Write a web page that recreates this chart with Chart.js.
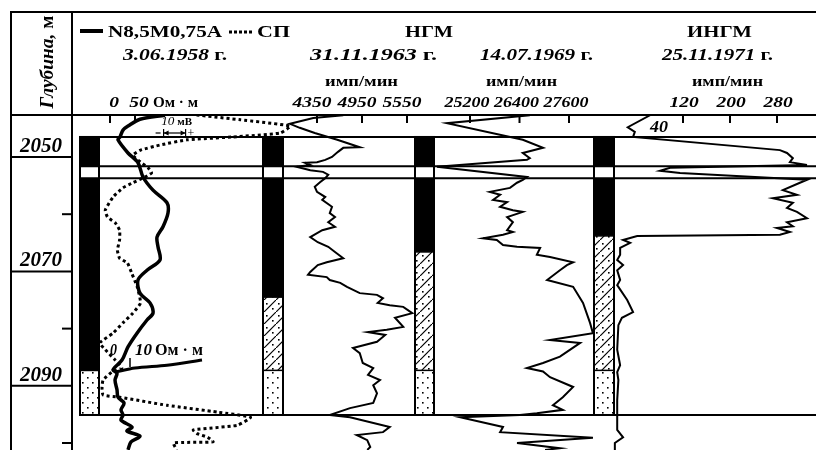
<!DOCTYPE html>
<html>
<head>
<meta charset="utf-8">
<style>
  html, body { margin: 0; padding: 0; background: #fff; }
  #wrap { width: 816px; height: 450px; position: relative; }
</style>
<script src="https://cdn.jsdelivr.net/npm/chart.js@4.4.0/dist/chart.umd.min.js"></script>
</head>
<body>
<div id="wrap"><canvas id="log"></canvas></div>
<script>
// depth axis (m)
const depthMin = 2042.66;
const depthMax = 2101.22;
const depthLabels = [2050, 2070, 2090];
const depthTicks = [2060, 2080, 2100];

// header ticks of each track
const resTicks = [0, 50];
const ngm63Ticks = [4350, 4950, 5550];
const ngm69Ticks = [25200, 26400, 27600];
const ingmTicks = [120, 200, 280];

// lithology boundaries (m)
const bedLines = [2046.5, 2051.6, 2053.7, 2095.1];
const clayBottom = [2087.3, 2074.5, 2066.6, 2063.8];
const sandTop = 2087.3;

// N8,5M0,75A resistivity, Ohm*m
const resDepth = [2042.7, 2043.4, 2044.6, 2045.3, 2046.5, 2047.0, 2049.3, 2051.0, 2053.5, 2055.8, 2058.0, 2059.8, 2062.2, 2064.0, 2065.7, 2068.0, 2069.8, 2071.5, 2073.8, 2075.5, 2077.3, 2078.5, 2080.8, 2083.2, 2085.5, 2087.2, 2087.8, 2089.0, 2090.7, 2092.0, 2093.0, 2094.2, 2095.1, 2096.0, 2097.2, 2097.9, 2098.8, 2099.8, 2101.2];
const resOhm = [110, 60, 36, 26, 20, 16, 36, 56, 66, 86, 114, 116, 106, 94, 96, 100, 74, 56, 60, 80, 86, 74, 54, 36, 24, 6, 14, 10, 14, 16, 28, 22, 26, 22, 44, 34, 60, 42, 36];
const resSpikeDepth = [2087.6, 2086.9, 2086.4, 2085.5];
const resSpikeOhm = [10, 50, 114, 184];

// SP, mV
const spDepth = [2042.66, 2043.5, 2044.6, 2045.8, 2046.5, 2047.0, 2047.9, 2048.8, 2049.7, 2050.9, 2051.9, 2052.8, 2053.7, 2054.5, 2055.4, 2057.0, 2059.3, 2060.5, 2061.5, 2062.8, 2064.5, 2066.3, 2067.7, 2068.5, 2070.3, 2072.7, 2075.5, 2077.3, 2079.0, 2080.8, 2082.5, 2083.7, 2085.5, 2086.9, 2087.6, 2089.0, 2090.2, 2091.6, 2092.0, 2093.4, 2094.6, 2095.5, 2096.9, 2097.7, 2098.3, 2099.0, 2099.8, 2100.0, 2101.2];
const spMv = [53, 73, 95.5, 91, 69.5, 48.5, 36.5, 27.5, 24, 27.5, 31, 32.5, 28.5, 24, 19.5, 15, 11.5, 12.5, 16, 18, 18, 17, 18, 21.5, 23.5, 26, 27.5, 24, 19.5, 15, 9, 11.5, 16, 19, 14.5, 10.5, 10, 10.5, 18, 39.5, 62.5, 77.5, 71.5, 51.5, 53, 58, 60.5, 42.5, 44];

// NGM 31.11.1963, imp/min
const ngm63Depth = [2042.7, 2043.2, 2044.2, 2044.9, 2045.8, 2047.0, 2048.3, 2048.4, 2049.1, 2050.0, 2050.5, 2050.9, 2051.0, 2051.4, 2051.7, 2052.3, 2052.6, 2053.1, 2053.7, 2054.4, 2055.2, 2056.1, 2057.0, 2057.5, 2058.7, 2059.8, 2060.5, 2061.4, 2062.2, 2062.8, 2064.0, 2064.9, 2065.7, 2066.6, 2067.7, 2068.4, 2068.9, 2070.1, 2070.6, 2071.0, 2071.5, 2072.0, 2072.7, 2073.8, 2074.1, 2074.7, 2075.5, 2075.9, 2076.2, 2077.3, 2078.1, 2079.7, 2080.2, 2080.6, 2081.1, 2082.3, 2083.4, 2084.3, 2086.0, 2086.9, 2088.1, 2089.0, 2089.9, 2091.3, 2093.0, 2093.9, 2095.1, 2095.5, 2097.2, 2098.1, 2098.6, 2099.5, 2100.7, 2101.2];
const ngm63Val = [4700, 4300, 3990, 4120, 4320, 4620, 4920, 4700, 4630, 4550, 4460, 4350, 4190, 4260, 4080, 4260, 4430, 4500, 4460, 4390, 4320, 4350, 4460, 4420, 4550, 4520, 4590, 4500, 4590, 4420, 4260, 4360, 4500, 4590, 4700, 4480, 4360, 4260, 4230, 4480, 4520, 4660, 4750, 4920, 5150, 5230, 5160, 5320, 5500, 5620, 5390, 5500, 5280, 5030, 5260, 5150, 4830, 4920, 4960, 5100, 5030, 5190, 5100, 5150, 5100, 4790, 4520, 4790, 5320, 5230, 4880, 5020, 5060, 5020];

// NGM 14.07.1969, imp/min
const ngm69Depth = [2042.7, 2044.1, 2047.0, 2048.4, 2049.3, 2050.2, 2050.5, 2051.7, 2053.5, 2054.0, 2054.5, 2055.4, 2056.1, 2056.6, 2057.5, 2057.9, 2058.7, 2059.3, 2059.6, 2060.5, 2061.4, 2062.8, 2063.1, 2063.6, 2064.2, 2064.5, 2065.4, 2065.7, 2065.9, 2067.1, 2067.5, 2068.4, 2068.9, 2069.8, 2071.5, 2072.7, 2075.5, 2079.0, 2080.8, 2082.0, 2082.5, 2084.9, 2086.0, 2086.9, 2087.5, 2088.5, 2090.2, 2092.0, 2093.4, 2094.2, 2094.8, 2095.1, 2095.5, 2097.2, 2098.1, 2099.1, 2100.0, 2100.9, 2101.2];
const ngm69Val = [26650, 24640, 26480, 26970, 26480, 26650, 26580, 24400, 26580, 26480, 26340, 26170, 25680, 25930, 25760, 26100, 25930, 26240, 26480, 26100, 26240, 26100, 26240, 26000, 25520, 25850, 26000, 26340, 26900, 26820, 27140, 27700, 27550, 27380, 27070, 27700, 27940, 28110, 28180, 27140, 27870, 27380, 26970, 26580, 26970, 27140, 27700, 27450, 27210, 27450, 26820, 26410, 24960, 26000, 25930, 28180, 26340, 27380, 27020];

// INGM 25.11.1971, imp/min
const ingmDepth = [2042.7, 2044.8, 2045.6, 2046.5, 2048.8, 2049.3, 2050.2, 2050.9, 2051.4, 2051.9, 2052.4, 2052.8, 2054.0, 2054.5, 2055.8, 2056.6, 2057.2, 2058.0, 2058.9, 2059.6, 2060.7, 2061.4, 2062.1, 2062.4, 2063.1, 2063.6, 2063.8, 2064.5, 2065.0, 2065.9, 2067.1, 2068.0, 2068.9, 2069.8, 2071.5, 2072.4, 2075.0, 2077.1, 2078.1, 2079.4, 2083.7, 2086.4, 2087.6, 2089.0, 2092.5, 2097.7, 2099.0, 2100.0, 2101.2];
const ingmVal = [64, 26, 38, 35, 285, 297, 307, 302, 331, 98, 81, 115, 331, 319, 290, 314, 273, 307, 297, 314, 331, 297, 307, 280, 302, 285, 42, 18, 30, 13, 13, 8, 18, 8, 13, 8, 25, 35, 16, 10, 8, 13, 8, 10, 8, 8, 18, 4, 4];

// layout (px)
const PLOT_L = 72, PLOT_R = 816, PLOT_T = 115;
const colX = [80, 263, 415, 594];
const colW = [19, 20, 19, 20];
const SERIF = '"Liberation Serif", "Times New Roman", serif';

// x range of a hidden axis so that value v1 lands at px p1 and v2 at px p2
function axisFor(v1, p1, v2, p2) {
  const k = (v2 - v1) / (p2 - p1);
  return { type: 'linear', axis: 'x', display: false,
    min: v1 - (p1 - PLOT_L) * k, max: v1 + (PLOT_R - p1) * k };
}

const pts = (depth, vals) => depth.map((d, i) => ({ x: vals[i], y: d }));

function makePattern(w, h, draw) {
  const c = document.createElement('canvas');
  c.width = w; c.height = h;
  const g = c.getContext('2d');
  g.fillStyle = '#fff'; g.fillRect(0, 0, w, h);
  g.fillStyle = '#000'; g.strokeStyle = '#000';
  draw(g);
  return c;
}

const sandTile = makePattern(10, 10, g => {
  g.fillRect(2, 2, 1.6, 1.6);
  g.fillRect(7, 7, 1.6, 1.6);
});
const hatchTile = makePattern(12, 12, g => {
  g.lineWidth = 1.2;
  g.beginPath();
  g.moveTo(-1, 13); g.lineTo(13, -1);
  g.stroke();
  g.fillRect(2, 3, 1.6, 1.6);
  g.fillRect(8, 8, 1.6, 1.6);
});

function line(ctx, x0, y0, x1, y1) {
  ctx.beginPath(); ctx.moveTo(x0, y0); ctx.lineTo(x1, y1); ctx.stroke();
}

// draws text pieces stretched horizontally by sx
function drawParts(ctx, parts, x, y, sx, align) {
  let total = 0;
  const widths = parts.map(p => { ctx.font = p[1]; const w = ctx.measureText(p[0]).width * sx; total += w; return w; });
  let cx = align === 'center' ? x - total / 2 : align === 'right' ? x - total : x;
  ctx.textAlign = 'left';
  ctx.textBaseline = 'alphabetic';
  parts.forEach((p, i) => {
    ctx.save();
    ctx.font = p[1];
    ctx.translate(cx, y);
    ctx.scale(sx, 1);
    ctx.fillText(p[0], 0, 0);
    ctx.restore();
    cx += widths[i];
  });
}

// fits text pieces between x0 and x1
function fitParts(ctx, parts, x0, x1, y) {
  let total = 0;
  parts.forEach(p => { ctx.font = p[1]; total += ctx.measureText(p[0]).width; });
  drawParts(ctx, parts, x0, y, (x1 - x0) / total, 'left');
}

const lithology = {
  id: 'lithology',
  beforeDraw(chart) {
    const ctx = chart.ctx;
    ctx.save();
    ctx.fillStyle = '#fff';
    ctx.fillRect(0, 0, chart.width, chart.height);
    ctx.restore();
  },
  beforeDatasetsDraw(chart) {
    const ctx = chart.ctx;
    const y = chart.scales.y;
    const top = y.getPixelForValue(bedLines[0]);
    const bandT = y.getPixelForValue(bedLines[1]);
    const bandB = y.getPixelForValue(bedLines[2]);
    const bot = y.getPixelForValue(bedLines[3]);
    const sTop = y.getPixelForValue(sandTop);
    const sand = ctx.createPattern(sandTile, 'repeat');
    const hatch = ctx.createPattern(hatchTile, 'repeat');
    ctx.save();
    ctx.strokeStyle = '#000';
    colX.forEach((x0, i) => {
      const w = colW[i];
      const cb = y.getPixelForValue(clayBottom[i]);
      ctx.fillStyle = '#000';
      ctx.fillRect(x0, top, w, cb - top);
      if (cb < sTop) {
        ctx.fillStyle = hatch;
        ctx.fillRect(x0, cb, w, sTop - cb);
      }
      ctx.fillStyle = sand;
      ctx.fillRect(x0, sTop, w, bot - sTop);
      ctx.fillStyle = '#fff';
      ctx.fillRect(x0, bandT, w, bandB - bandT);
      ctx.lineWidth = 1.5;
      line(ctx, x0, cb, x0 + w, cb);
      line(ctx, x0, sTop, x0 + w, sTop);
      ctx.lineWidth = 2;
      ctx.strokeRect(x0, top, w, bot - top);
    });
    ctx.lineWidth = 2;
    bedLines.forEach(d => {
      const py = y.getPixelForValue(d);
      line(ctx, colX[0], py, PLOT_R, py);
    });
    ctx.restore();
  },
  afterDraw(chart) {
    const ctx = chart.ctx;
    const s = chart.scales;
    ctx.save();
    ctx.strokeStyle = '#000';
    ctx.fillStyle = '#000';
    ctx.lineWidth = 2;

    // frame
    line(ctx, 10, 12, PLOT_R, 12);
    line(ctx, 10, PLOT_T, PLOT_R, PLOT_T);
    line(ctx, 11, 12, 11, 450);
    line(ctx, PLOT_L, 12, PLOT_L, 450);

    // depth column
    depthLabels.forEach(d => {
      const py = s.y.getPixelForValue(d);
      line(ctx, 10, py, PLOT_L, py);
      drawParts(ctx, [[String(d), 'italic bold 21px ' + SERIF]], 41, py - 5, 1, 'center');
    });
    depthTicks.forEach(d => {
      const py = s.y.getPixelForValue(d);
      line(ctx, 62, py, PLOT_L, py);
    });
    ctx.save();
    ctx.translate(53, 62);
    ctx.rotate(-Math.PI / 2);
    drawParts(ctx, [['Глубина,', 'italic bold 19px ' + SERIF], [' м', 'bold 19px ' + SERIF]], 0, 0, 1.02, 'center');
    ctx.restore();

    // legend row
    ctx.lineWidth = 4;
    line(ctx, 80, 31, 103, 31);
    ctx.lineWidth = 3;
    ctx.setLineDash([3, 2]);
    line(ctx, 229, 32, 252, 32);
    ctx.setLineDash([]);
    const B17 = 'bold 17px ' + SERIF;
    fitParts(ctx, [['N8,5M0,75A', B17]], 108, 222, 37);
    fitParts(ctx, [['СП', B17]], 257, 290, 37);
    fitParts(ctx, [['НГМ', B17]], 405, 453, 37);
    fitParts(ctx, [['ИНГМ', B17]], 687, 752, 37);

    // survey dates
    const BI16 = 'italic bold 16px ' + SERIF, B16 = 'bold 16px ' + SERIF;
    fitParts(ctx, [['3.06.1958', BI16], [' г.', B16]], 123, 227, 60);
    fitParts(ctx, [['31.11.1963', BI16], [' г.', B16]], 310, 437, 60);
    fitParts(ctx, [['14.07.1969', BI16], [' г.', B16]], 480, 593, 60);
    fitParts(ctx, [['25.11.1971', BI16], [' г.', B16]], 662, 773, 60);

    // units
    const B14 = 'bold 14px ' + SERIF;
    fitParts(ctx, [['имп/мин', B14]], 325, 398, 86);
    fitParts(ctx, [['имп/мин', B14]], 486, 557, 86);
    fitParts(ctx, [['имп/мин', B14]], 692, 763, 86);

    // ticks and tick labels: scale, values, label shift, label stretch
    const BI15 = 'italic bold 15px ' + SERIF;
    const axes = [
      [s.xRes, resTicks, 4, 1.3],
      [s.x63, ngm63Ticks, -5, 1.3],
      [s.x69, ngm69Ticks, -3, 1.2],
      [s.x71, ingmTicks, 1, 1.3]
    ];
    ctx.lineWidth = 2;
    axes.forEach(([sc, ticks, dx, sx]) => {
      ticks.forEach(v => {
        const px = sc.getPixelForValue(v);
        line(ctx, px, PLOT_T, px, PLOT_T + 8);
        drawParts(ctx, [[String(v), BI15]], px + dx, 107, sx, 'center');
      });
    });
    fitParts(ctx, [['Ом · м', 'bold 15px ' + SERIF]], 153, 198, 107);

    // SP scale bar 10 mV
    const b0 = s.xSp.getPixelForValue(38), b1 = s.xSp.getPixelForValue(48);
    ctx.lineWidth = 1.2;
    line(ctx, b0, 129, b0, 137);
    line(ctx, b1, 129, b1, 137);
    line(ctx, b0, 133, b1, 133);
    ctx.beginPath();
    ctx.moveTo(b0, 133); ctx.lineTo(b0 + 5, 130.5); ctx.lineTo(b0 + 5, 135.5); ctx.closePath();
    ctx.moveTo(b1, 133); ctx.lineTo(b1 - 5, 130.5); ctx.lineTo(b1 - 5, 135.5); ctx.closePath();
    ctx.fill();
    line(ctx, b0 - 8, 133, b0 - 3, 133);
    drawParts(ctx, [['+', '12px ' + SERIF]], b1 + 2, 137, 1, 'left');
    drawParts(ctx, [['10', 'italic 12px ' + SERIF], [' мВ', 'bold 10px ' + SERIF]], (b0 + b1) / 2 + 2, 125, 1.1, 'center');

    // lower resistivity scale note
    const r0 = s.xRes.getPixelForValue(4);
    fitParts(ctx, [['0', BI16]], r0 - 2, r0 + 5, 355);
    fitParts(ctx, [['10', BI16]], 135, 152, 355);
    fitParts(ctx, [['Ом · м', 'bold 16px ' + SERIF]], 155, 203, 355);
    ctx.lineWidth = 1.5;
    const rt = s.xRes.getPixelForValue(40);
    line(ctx, rt, 358, rt, 367);

    // INGM start value
    fitParts(ctx, [['40', BI16]], 650, 668, 132);
    ctx.restore();
  }
};

new Chart(document.getElementById('log'), {
  type: 'scatter',
  data: {
    datasets: [
      { data: pts(resDepth, resOhm), xAxisID: 'xRes', borderWidth: 3.5, tension: 0.3 },
      { data: pts(resSpikeDepth, resSpikeOhm), xAxisID: 'xRes', borderWidth: 3, tension: 0.3 },
      { data: pts(spDepth, spMv), xAxisID: 'xSp', borderWidth: 3, borderDash: [3, 3], tension: 0.15 },
      { data: pts(ngm63Depth, ngm63Val), xAxisID: 'x63', borderWidth: 2 },
      { data: pts(ngm69Depth, ngm69Val), xAxisID: 'x69', borderWidth: 2 },
      { data: pts(ingmDepth, ingmVal), xAxisID: 'x71', borderWidth: 2 }
    ].map(ds => Object.assign({ showLine: true, pointRadius: 0, borderColor: '#000', fill: false }, ds))
  },
  options: {
    responsive: true,
    maintainAspectRatio: false,
    animation: false,
    devicePixelRatio: 1,
    events: [],
    layout: { padding: { left: PLOT_L, top: PLOT_T, right: 0, bottom: 0 } },
    plugins: { legend: { display: false }, tooltip: { enabled: false } },
    scales: {
      y: { type: 'linear', display: false, reverse: true, min: depthMin, max: depthMax },
      xRes: axisFor(0, 110, 50, 135),
      xSp: axisFor(0, 80, 10, 102),
      x63: axisFor(4350, 317, 5550, 407),
      x69: axisFor(25200, 470, 27600, 569),
      x71: axisFor(120, 683, 280, 777)
    }
  },
  plugins: [lithology]
});
</script>
</body>
</html>
